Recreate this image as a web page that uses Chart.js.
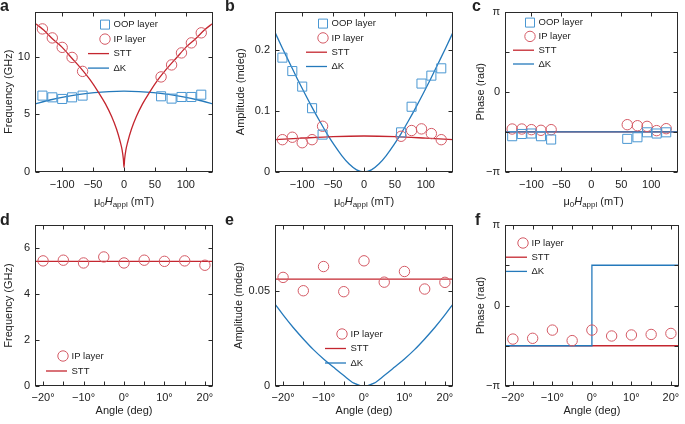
<!DOCTYPE html>
<html>
<head>
<meta charset="utf-8">
<title>STT vs dK panels</title>
<script src="https://cdn.jsdelivr.net/npm/chart.js@4.4.1/dist/chart.umd.min.js"></script>
<style>
  body { margin: 0; background: #fff; }
  #fig { position: relative; width: 685px; height: 424px; overflow: hidden; font-family: "Liberation Sans", Arial, sans-serif; color: #222; }
  #fig canvas { position: absolute; }
  .letter { position: absolute; font-weight: bold; font-size: 16px; line-height: 16px; }
  .xtitle { position: absolute; top: 194px; text-align: center; font-size: 11px; line-height: 14px; white-space: nowrap; }
  .xtitle sub { font-size: 8px; line-height: 0; vertical-align: -2px; }
</style>
</head>
<body>
<div id="fig">
  <canvas id="cA" width="228" height="212" style="left:0;top:0"></canvas>
  <canvas id="cB" width="233" height="212" style="left:232px;top:0"></canvas>
  <canvas id="cC" width="213" height="212" style="left:472px;top:0"></canvas>
  <canvas id="cD" width="228" height="212" style="left:0;top:212px"></canvas>
  <canvas id="cE" width="235" height="212" style="left:230px;top:212px"></canvas>
  <canvas id="cF" width="213" height="212" style="left:472px;top:212px"></canvas>

  <div class="letter" style="left:0;top:-2px">a</div>
  <div class="letter" style="left:225px;top:-2px">b</div>
  <div class="letter" style="left:472px;top:-2px">c</div>
  <div class="letter" style="left:0;top:212px">d</div>
  <div class="letter" style="left:225px;top:212px">e</div>
  <div class="letter" style="left:475px;top:212px">f</div>

  <div class="xtitle" style="left:35px;width:178px">μ<sub>0</sub><i>H</i><sub>appl</sub> (mT)</div>
  <div class="xtitle" style="left:275px;width:178px">μ<sub>0</sub><i>H</i><sub>appl</sub> (mT)</div>
  <div class="xtitle" style="left:505px;width:177px">μ<sub>0</sub><i>H</i><sub>appl</sub> (mT)</div>
</div>

<script>
// --- 1. DATA ---

// field sweep, panels a-c (mT)
const fieldPts = [-132, -116, -100, -84, -67, 60, 77, 93, 109, 125];
const fieldTicks = [-100, -50, 0, 50, 100];
const fitEnds = [-144, 144];

// a: frequency (GHz)
const freqOOP = [6.62, 6.47, 6.33, 6.47, 6.62, 6.56, 6.36, 6.5, 6.5, 6.7];
const freqIP = [12.4, 11.62, 10.8, 9.93, 8.72, 8.24, 9.28, 10.32, 11.19, 12.06];
const sttFieldA = [-144, -130, -115, -100, -85, -70, -55, -40, -30, -20, -12, -6, -3, -1, 0, 1, 3, 6, 12, 20, 30, 40, 55, 70, 85, 100, 115, 130, 144];
const freqSTT = [12.9, 12.3, 11.5, 10.8, 9.9, 9.0, 8.0, 6.8, 5.9, 4.8, 3.7, 2.6, 1.9, 1.1, 0.4, 1.1, 1.9, 2.6, 3.7, 4.8, 5.9, 6.8, 8.0, 9.0, 9.9, 10.8, 11.5, 12.3, 12.9];
const dkFieldA = [-144, -120, -96, -72, -48, -24, 0, 24, 48, 72, 96, 120, 144];
const freqDK = [5.9, 6.24, 6.51, 6.72, 6.88, 6.97, 7.0, 6.97, 6.88, 6.72, 6.51, 6.24, 5.9];
const freqTicks = [0, 5, 10];

// b: amplitude (mdeg)
const ampOOP = [0.1875, 0.1655, 0.14, 0.1046, 0.0613, 0.065, 0.107, 0.145, 0.158, 0.17];
const ampIP = [0.053, 0.057, 0.048, 0.053, 0.075, 0.0586, 0.068, 0.0707, 0.063, 0.053];
const sttFieldB = [-144, -100, -50, 0, 50, 100, 144];
const ampSTT = [0.053, 0.0555, 0.058, 0.059, 0.058, 0.0555, 0.053];
const dkFieldB = [-144, -132, -120, -108, -96, -84, -72, -60, -48, -36, -24, -12, 0, 12, 24, 36, 48, 60, 72, 84, 96, 108, 120, 132, 144];
const ampDK = [0.229, 0.203, 0.178, 0.153, 0.129, 0.106, 0.084, 0.063, 0.044, 0.027, 0.013, 0.0035, 0, 0.0035, 0.013, 0.027, 0.044, 0.063, 0.084, 0.106, 0.129, 0.153, 0.178, 0.203, 0.229];
const ampTicks = [0, 0.1, 0.2];

// c: phase (rad)
const phaseOOP = [-1.74, -1.652, -1.634, -1.74, -1.869, -1.844, -1.781, -1.587, -1.634, -1.587];
const phaseIP = [-1.458, -1.458, -1.483, -1.508, -1.483, -1.288, -1.329, -1.354, -1.521, -1.445];
const phaseSTT = [-1.57, -1.57];
const phaseDK = [-1.57, -1.57];
const phaseTicks = [-Math.PI, -Math.PI / 2, 0, Math.PI / 2, Math.PI];
const phaseLabels = ['−π', '', '0', '', 'π'];

// angle sweep, panels d-f (deg)
const anglePts = [-20, -15, -10, -5, 0, 5, 10, 15, 20];
const angleTicks = [-20, -15, -10, -5, 0, 5, 10, 15, 20];
const angleEnds = [-22, 22];

// d: frequency (GHz)
const freqIPang = [5.44, 5.47, 5.35, 5.61, 5.35, 5.47, 5.42, 5.44, 5.25];
const freqSTTang = [5.42, 5.42];
const freqTicksD = [0, 2, 4, 6];

// e: amplitude (mdeg)
const ampIPang = [0.057, 0.050, 0.0627, 0.0495, 0.0657, 0.0545, 0.0601, 0.0509, 0.0544];
const ampSTTang = [0.0561, 0.0561];
const dkAngle = [-22, -20, -17.5, -15, -12.5, -10, -7.5, -5, -2.5, 0, 2.5, 5, 7.5, 10, 12.5, 15, 17.5, 20, 22];
const ampDKang = [0.043, 0.0373, 0.0307, 0.0247, 0.0191, 0.0142, 0.0098, 0.0055, 0.0015, 0, 0.0015, 0.0055, 0.0098, 0.0142, 0.0191, 0.0247, 0.0307, 0.0373, 0.043];
const ampTicksE = [0, 0.05];

// f: phase (rad)
const phaseIPang = [-1.31, -1.28, -0.96, -1.37, -0.96, -1.19, -1.15, -1.13, -1.09];
const phaseSTTang = [-1.57, -1.57];
const dkStepAngle = [-22, 0, 0, 22];
const phaseDKang = [-1.57, -1.57, 1.57, 1.57];


// --- 2. STYLE + HELPERS ---
const red = '#c4262f';
const blue = '#2479bb';
const redMark = '#d45a65';
const blueMark = '#4a97d2';
const ink = '#222';
const FONT = '"Liberation Sans", Arial, sans-serif';

Chart.defaults.font.family = FONT;
Chart.defaults.color = ink;

const pts = (xs, ys) => xs.map((x, i) => ({ x: x, y: ys[i] }));
const num = v => (v < 0 ? '−' + Math.abs(v) : String(v));
const deg = v => (v % 10 === 0 ? num(v) + '°' : '');

function circles(xs, ys) {
    return { data: pts(xs, ys), showLine: false, pointStyle: 'circle', pointRadius: 5.2,
             borderColor: redMark, backgroundColor: 'rgba(0,0,0,0)', borderWidth: 1 };
}
function squares(xs, ys) {
    return { data: pts(xs, ys), showLine: false, pointStyle: 'rect', pointRadius: 6.4,
             borderColor: blueMark, backgroundColor: 'rgba(0,0,0,0)', borderWidth: 1 };
}
// smooth = monotone cubic through the read points (not for the step in f)
function curve(xs, ys, color, smooth) {
    const ds = { data: pts(xs, ys), showLine: true, pointRadius: 0, borderColor: color,
                 borderWidth: 1.3, tension: 0, fill: false };
    if (smooth) ds.cubicInterpolationMode = 'monotone';
    return ds;
}

// one linear axis with fixed ticks and a fixed box size
function axis(min, max, ticks, label, fit, pad, title) {
    return {
        type: 'linear', min: min, max: max,
        afterBuildTicks: s => { s.ticks = ticks.map(v => ({ value: v })); },
        afterFit: s => { if (s.isHorizontal()) s.height = fit; else s.width = fit; },
        grid: { display: false, drawTicks: false },
        border: { display: false },
        ticks: { color: ink, font: { size: 11 }, padding: pad, autoSkip: false,
                 maxRotation: 0, minRotation: 0, callback: (v, i) => label(v, i) },
        title: title
    };
}
const yTitle = t => ({ display: true, text: t, color: ink, font: { size: 11 }, padding: { top: 2, bottom: 0 } });
const xTitle = t => ({ display: true, text: t, color: ink, font: { size: 11 }, padding: { top: 0, bottom: 6 } });

// frame with inward ticks on all four sides (MATLAB box look)
const boxTicks = {
    id: 'boxTicks',
    afterDatasetsDraw(chart) {
        const { ctx, chartArea: a, scales: { x, y } } = chart;
        const L = Math.round(a.left) + 0.5, R = Math.round(a.right) - 0.5;
        const T = Math.round(a.top) + 0.5, B = Math.round(a.bottom) - 0.5;
        ctx.save();
        ctx.strokeStyle = '#2a2a2a';
        ctx.lineWidth = 1;
        ctx.strokeRect(L, T, R - L, B - T);
        ctx.beginPath();
        x.ticks.forEach(t => {
            const p = Math.round(x.getPixelForValue(t.value)) + 0.5;
            ctx.moveTo(p, B); ctx.lineTo(p, B - 4);
            ctx.moveTo(p, T); ctx.lineTo(p, T + 4);
        });
        y.ticks.forEach(t => {
            const p = Math.round(y.getPixelForValue(t.value)) + 0.5;
            ctx.moveTo(L, p); ctx.lineTo(L + 4, p);
            ctx.moveTo(R, p); ctx.lineTo(R - 4, p);
        });
        ctx.stroke();
        ctx.restore();
    }
};

// legend drawn inside the plot box
const boxLegend = {
    id: 'boxLegend',
    afterDraw(chart, args, o) {
        if (!o.items) return;
        const { ctx, chartArea: a } = chart;
        ctx.save();
        ctx.font = '9.5px ' + FONT;
        ctx.textBaseline = 'middle';
        o.items.forEach((it, i) => {
            const mx = a.left + o.x, my = a.top + o.y + i * o.gap;
            ctx.strokeStyle = it.color;
            ctx.lineWidth = 1;
            ctx.beginPath();
            if (it.kind === 'line') {
                ctx.lineWidth = 1.3;
                ctx.moveTo(mx - 17, my); ctx.lineTo(mx + 4, my);
            } else if (it.kind === 'circle') {
                ctx.arc(mx, my, 5.2, 0, Math.PI * 2);
            } else {
                ctx.rect(mx - 4.5, my - 4.5, 9, 9);
            }
            ctx.stroke();
            ctx.fillStyle = ink;
            ctx.fillText(it.text, mx + 8.5, my);
        });
        ctx.restore();
    }
};

const LG_OOP = { kind: 'square', color: blueMark, text: 'OOP layer' };
const LG_IP = { kind: 'circle', color: redMark, text: 'IP layer' };
const LG_STT = { kind: 'line', color: red, text: 'STT' };
const LG_DK = { kind: 'line', color: blue, text: 'ΔK' };

function panel(id, datasets, pad, x, y, legend) {
    return new Chart(document.getElementById(id), {
        type: 'scatter',
        data: { datasets: datasets },
        options: {
            responsive: false,
            animation: false,
            layout: { padding: pad },
            plugins: { legend: { display: false }, tooltip: { enabled: false }, boxLegend: legend },
            scales: { x: x, y: y }
        },
        plugins: [boxTicks, boxLegend]
    });
}


// --- 3. PANELS ---
document.addEventListener('DOMContentLoaded', () => {

    // a: frequency vs field
    panel('cA',
        [squares(fieldPts, freqOOP), circles(fieldPts, freqIP), curve(sttFieldA, freqSTT, red, true), curve(dkFieldA, freqDK, blue, true)],
        { top: 11, right: 15, left: 0, bottom: 0 },
        axis(-144, 144, fieldTicks, num, 40, 6),
        axis(0, 13.9, freqTicks, num, 35, 5, yTitle('Frequency (GHz)')),
        { x: 70, y: 13, gap: 14.5, items: [LG_OOP, LG_IP, LG_STT, LG_DK] });

    // b: amplitude vs field
    panel('cB',
        [squares(fieldPts, ampOOP), circles(fieldPts, ampIP), curve(sttFieldB, ampSTT, red, true), curve(dkFieldB, ampDK, blue, true)],
        { top: 11, right: 12, left: 0, bottom: 0 },
        axis(-144, 144, fieldTicks, num, 40, 6),
        axis(0, 0.263, ampTicks, num, 43, 5, yTitle('Amplitude (mdeg)')),
        { x: 48, y: 12, gap: 14.3, items: [LG_OOP, LG_IP, LG_STT, LG_DK] });

    // c: phase vs field (blue drawn over red)
    panel('cC',
        [squares(fieldPts, phaseOOP), circles(fieldPts, phaseIP), curve(fitEnds, phaseDK, blue), curve(fitEnds, phaseSTT, red)],
        { top: 11, right: 3, left: 0, bottom: 0 },
        axis(-144, 144, fieldTicks, num, 40, 6),
        axis(-Math.PI, Math.PI, phaseTicks, (v, i) => phaseLabels[i], 33, 5, yTitle('Phase (rad)')),
        { x: 25, y: 11, gap: 13.8, items: [LG_OOP, LG_IP, LG_STT, LG_DK] });

    // d: frequency vs angle
    panel('cD',
        [circles(anglePts, freqIPang), curve(angleEnds, freqSTTang, red)],
        { top: 13, right: 15, left: 0, bottom: 0 },
        axis(-22, 22, angleTicks, deg, 38, 5, xTitle('Angle (deg)')),
        axis(0, 7, freqTicksD, num, 35, 5, yTitle('Frequency (GHz)')),
        { x: 28, y: 131, gap: 15, items: [LG_IP, LG_STT] });

    // e: amplitude vs angle
    panel('cE',
        [circles(anglePts, ampIPang), curve(angleEnds, ampSTTang, red), curve(dkAngle, ampDKang, blue, true)],
        { top: 13, right: 12, left: 0, bottom: 0 },
        axis(-22, 22, angleTicks, deg, 38, 5, xTitle('Angle (deg)')),
        axis(0, 0.0845, ampTicksE, num, 45, 5, yTitle('Amplitude (mdeg)')),
        { x: 67, y: 109, gap: 14.5, items: [LG_IP, LG_STT, LG_DK] });

    // f: phase vs angle (step in dK at 0 deg)
    panel('cF',
        [circles(anglePts, phaseIPang), curve(dkStepAngle, phaseDKang, blue), curve(angleEnds, phaseSTTang, red)],
        { top: 13, right: 3, left: 0, bottom: 0 },
        axis(-22, 22, angleTicks, deg, 38, 5, xTitle('Angle (deg)')),
        axis(-Math.PI, Math.PI, phaseTicks, (v, i) => phaseLabels[i], 33, 5, yTitle('Phase (rad)')),
        { x: 18, y: 18, gap: 14.2, items: [LG_IP, LG_STT, LG_DK] });
});
</script>
</body>
</html>
